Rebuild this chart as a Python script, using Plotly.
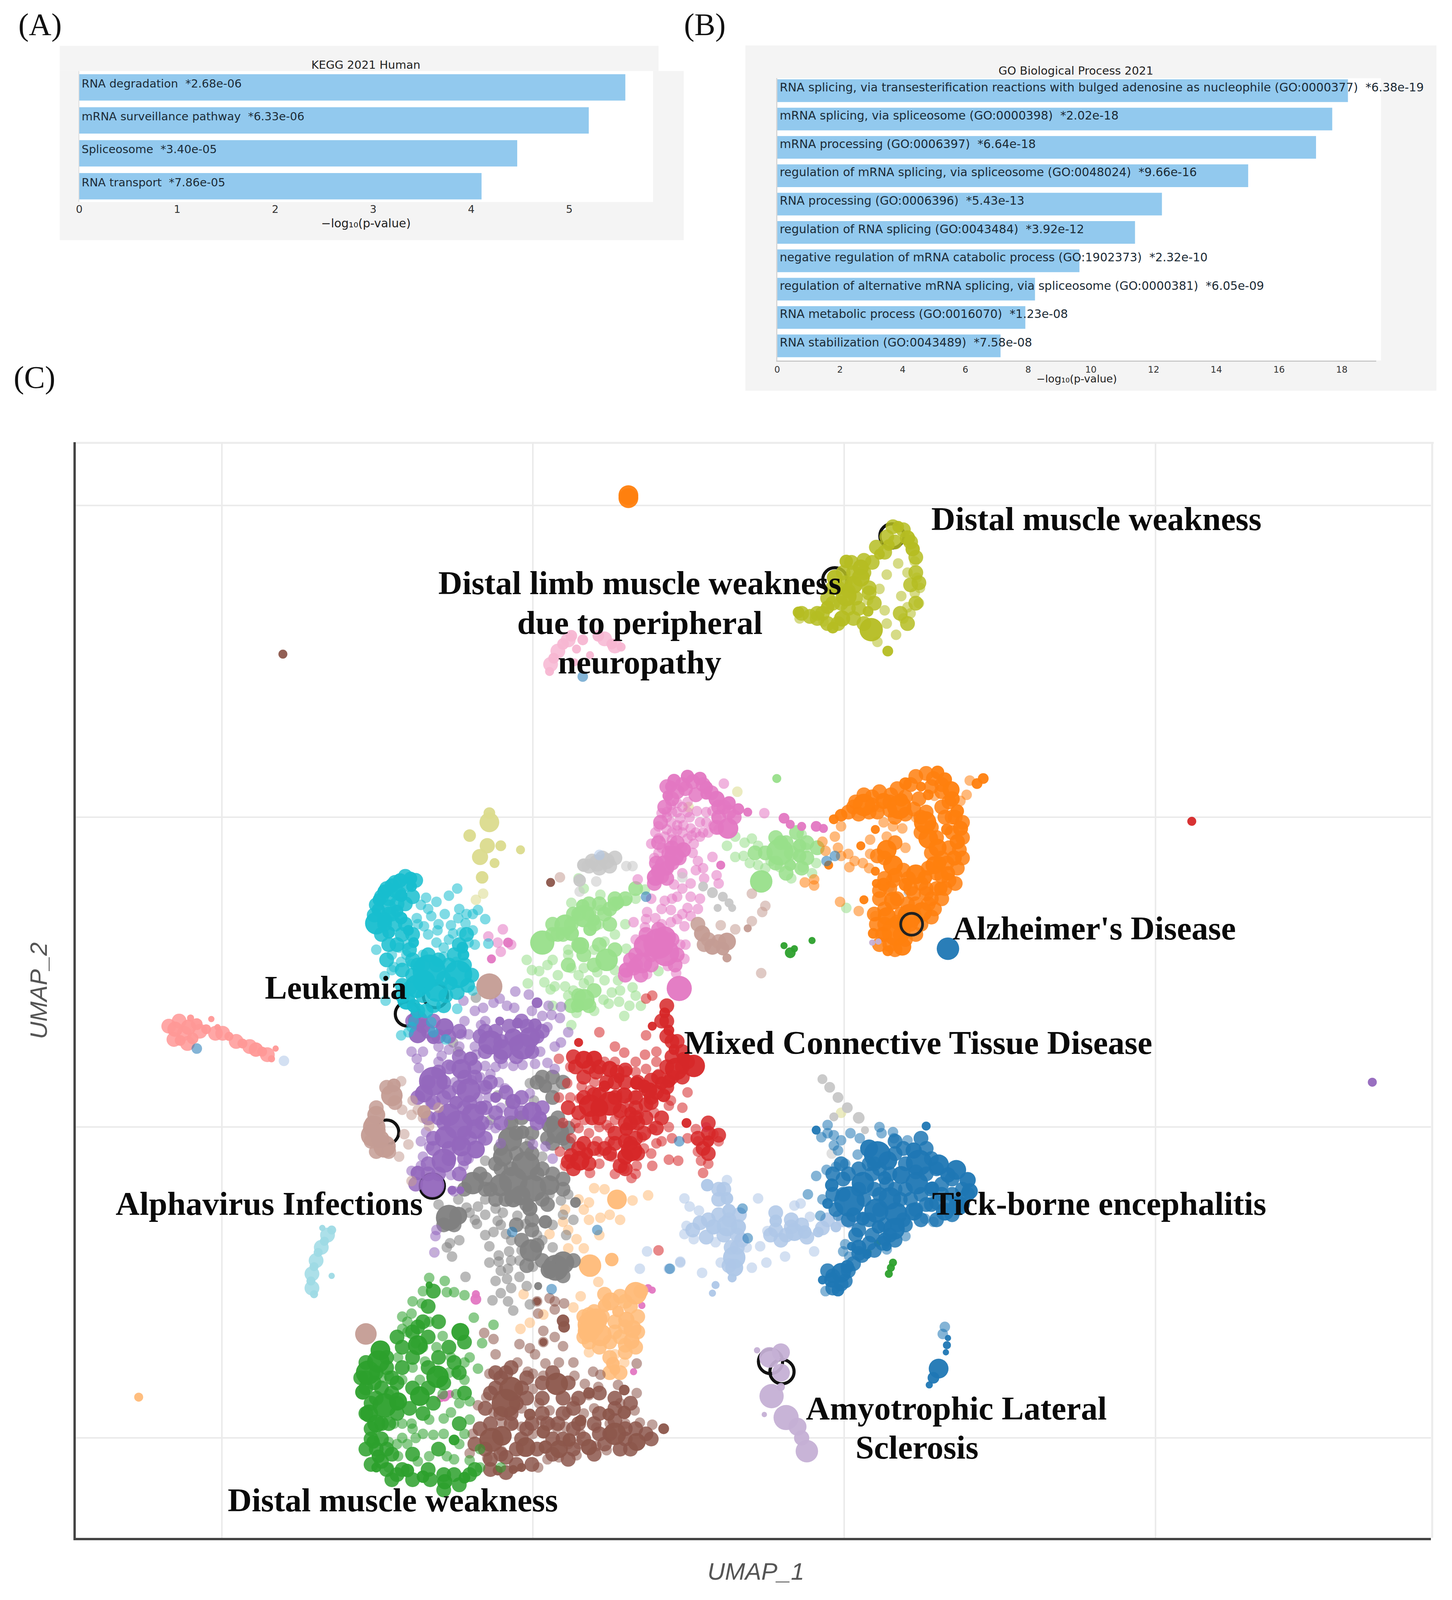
import plotly.graph_objects as go

# reference proportions, the figure itself fills the window
W = 3717
H = 4182

# (A) KEGG
kegg_terms = ['RNA degradation', 'mRNA surveillance pathway', 'Spliceosome', 'RNA transport']
kegg_pvals = ['2.68e-06', '6.33e-06', '3.40e-05', '7.86e-05']
kegg_scores = [5.572, 5.199, 4.469, 4.105]
kegg_ticks = [0, 1, 2, 3, 4, 5]

# (B) GO
go_terms = ['RNA splicing, via transesterification reactions with bulged adenosine as nucleophile (GO:0000377)',
            'mRNA splicing, via spliceosome (GO:0000398)',
            'mRNA processing (GO:0006397)',
            'regulation of mRNA splicing, via spliceosome (GO:0048024)',
            'RNA processing (GO:0006396)',
            'regulation of RNA splicing (GO:0043484)',
            'negative regulation of mRNA catabolic process (GO:1902373)',
            'regulation of alternative mRNA splicing, via spliceosome (GO:0000381)',
            'RNA metabolic process (GO:0016070)',
            'RNA stabilization (GO:0043489)']
go_pvals = ['6.38e-19', '2.02e-18', '6.64e-18', '9.66e-16', '5.43e-13',
            '3.92e-12', '2.32e-10', '6.05e-09', '1.23e-08', '7.58e-08']
go_scores = [18.195, 17.695, 17.178, 15.015, 12.265, 11.407, 9.635, 8.218, 7.91, 7.12]
go_ticks = [0, 2, 4, 6, 8, 10, 12, 14, 16, 18]

# (C) UMAP, points
# *_pts: pale scattered cells, *_fill: dense cells, *_blobs: (umap_1, umap_2, weight)
olive_pts = [(881,565),(879,580),(872,594),(868,605),(852,610),(861,621),(843,628),(852,562),(845,576),(866,583),
             (863,551),(850,597),(872,560),(879,549),(834,587),(791,608),(768,605),(884,575),(883,590),(875,600)]
olive_fill = [(830,548),(820,560),(812,570),(835,575),(822,585),(805,575),(800,590),(815,595),(790,600),(825,595),(840,590),(860,530),
              (868,518),(875,530),(850,540),(838,550),(880,545),(830,610),(785,600),(778,603),(795,610),(883,570),(880,590),(872,610),
              (865,600),(880,560),(875,572),(810,560),(818,550),(800,575),(820,605),(808,590),(830,560),(842,535),(852,525),(858,515),
              (835,580),(815,578),(785,605),(770,600),(805,610),(795,585)]
olive_blobs = [(863,515,26),(872,526,34),(877,537,32),(854,533,26),(845,542,24),(827,555,36),(813,549,30),(802,565,36),
               (827,565,40),(813,583,46),(795,594,30),(809,605,36),(834,598,24),(837,616,52),(767,599,26),(800,614,26),
               (853,637,24),(820,572,40)]
light_pink_fill = [(545,626),(535,637),(580,625),(590,632),(528,650)]
light_pink_blobs = [(548,622,26),(540,630,26),(531,644,24),(527,657,20),(559,626,24),(574,622,26),(587,630,24),(596,633,20),
                    (553,635,20),(566,641,18),(551,648,18)]
khaki_blobs = [(469,805,44),(469,796,26),(450,818,28),(467,828,34),(480,828,24),(460,839,36),(462,859,28),(499,832,20),(474,845,22)]
khaki_pts = [(463,875),(456,881),(808,1090),(661,790),(708,775)]
cyan_pts = [(408,879),(418,883),(403,886),(430,877),(438,870),(426,895),(439,899),(446,904),(458,891),(453,895),(465,900),
            (419,911),(434,914),(453,911),(406,907),(413,897),(399,899),(418,923),(425,928),(432,906),(442,913),(449,923),
            (382,928),(375,935),(360,930),(368,956),(384,942),(377,947),(389,935),(394,944),(369,980),(468,924),(437,942),
            (425,937),(453,970),(391,1011),(394,1006),(413,1001),(427,1018),(415,1011),(438,988),(396,1000),(384,1014),
            (400,905),(410,915),(420,905),(440,890),(430,920),(447,895),(410,890),(455,925),(375,950),(390,925),(405,935)]
cyan_fill = [(388,858),(378,864),(370,870),(365,878),(360,886),(358,896),(372,880),(378,872),(390,866),(398,862),(395,878),(388,885),
             (372,895),(378,905),(385,915),(392,930),(372,925),(365,915),(395,940),(420,940),(430,945),(445,945),(448,965),(425,958),
             (410,935),(400,945),(395,955),(385,965),(385,975),(392,968),(405,975),(427,975),(438,972),(382,875),(372,888),(380,885),
             (368,905),(375,895),(388,905),(395,915),(380,925),(370,940),(385,950),(418,945),(435,935),(440,925),(447,915),(405,945),
             (452,955),(415,985),(400,990),(425,985),(408,990)]
cyan_blobs = [(393,860,30),(383,862,32),(375,867,32),(368,873,32),(363,881,30),(362,891,30),(360,904,50),(368,901,34),(372,913,28),
              (380,892,28),(384,899,28),(391,911,24),(396,923,24),(384,877,28),(394,868,24),(411,951,74),(439,954,62),(399,966,52),
              (418,970,50),(389,980,40),(406,961,50),(432,963,30),(396,985,30),(444,935,26),(443,928,26)]
pink_pts = [(635,796),(644,805),(632,809),(653,801),(663,811),(672,805),(650,813),(638,819),(660,821),(672,819),(625,826),(632,821),
            (650,786),(669,794),(684,794),(678,805),(644,788),(688,801),(640,800),(656,808),(666,826),(645,822),(629,815),
            (734,796),(695,767),(684,839),(670,843),(688,857),(655,855),(647,866),(663,878),(672,880),(638,882),(644,891),
            (660,889),(621,893),(629,899),(663,897),(608,903),(644,903),(657,907),(619,908),(612,861),(653,925),(657,939),
            (641,946),(621,954),(649,953),(482,910),(468,917),(477,923),(480,932),(490,925),(668,852),(676,860),(650,878),(655,895),
            (640,795),(650,795),(660,795),(645,815),(655,830),(665,835),(668,815),(635,830),(680,815),(690,812),(645,795),(655,790),
            (662,800),(640,812),(650,808),(664,818),(655,815),(642,828),(632,835),(678,795),(685,808),(660,785),(675,815),(628,840),
            (690,865),(675,850),(663,865),(655,870),(670,890),(650,900),(635,890),(625,880),(645,880),(620,900),(635,905),(658,925),(610,920)]
pink_fill = [(655,768),(665,765),(675,768),(683,776),(690,790),(700,795),(645,782),(638,790),(634,805),(632,825),(642,835),(650,825),
             (645,845),(635,858),(628,865),(640,860),(625,935),(610,945),(645,920),(650,935),(608,948),(600,955),(650,775),(658,772),
             (668,778),(640,770),(695,790),(705,800),(690,800),(688,810),(645,830),(652,840),(640,850),(630,845),(625,945),(615,955),
             (605,940),(620,915),(632,910),(648,945),(610,935)]
pink_blobs = [(647,764,30),(660,760,30),(672,762,30),(678,771,30),(644,770,26),(641,779,24),(688,782,36),(700,786,30),(709,792,26),
              (718,795,20),(678,777,26),(699,811,46),(647,838,44),(638,847,44),(629,859,38),(656,832,34),(632,853,34),
              (632,924,68),(639,933,60),(619,926,50),(638,918,50),(616,943,46),(601,950,34),(652,968,56),(692,847,20),(753,801,24),
              (759,807,20),(770,809,20),(784,809,24),(791,811,20),(487,923,22),(471,939,20),(426,1368,24),(422,1370,18),(431,1366,18),
              (456,1273,24),(456,1268,18),(622,1262,18),(626,1264,16),(616,1279,16),(608,1344,16),(678,1104,22)]
lgreen_pts = [(706,819),(722,821),(698,828),(714,838),(706,839),(728,828),(728,847),(740,843),(749,849),(771,849),(784,845),(774,830),
              (770,817),(813,889),(576,876),(548,884),(576,891),(610,880),(619,871),(601,882),(505,940),(525,945),(517,951),(548,948),
              (560,948),(573,952),(601,929),(632,951),(506,963),(522,962),(532,966),(542,966),(560,963),(593,960),(607,967),(587,972),
              (579,979),(594,981),(604,985),(599,995),(584,983),(553,992),(548,1004),(528,969),(570,930),(580,922),(545,930),(550,970),(570,990),
              (545,935),(535,955),(555,955),(565,960),(580,960),(590,950),(545,975),(530,985),(510,950),(595,970),(610,975),(615,985),(530,940),
              (600,905),(590,915),(575,905),(560,870),(555,860),(735,850),(715,825),(720,845),(760,860),(780,855)]
lgreen_fill = [(570,905),(555,895),(548,905),(540,915),(530,915),(565,885),(585,890),(590,880),(555,925),(560,935),(545,945),(785,830),
               (745,820),(755,825),(745,845),(735,835),(760,835),(775,840),(535,915),(550,895),(575,885),(580,895),(565,895),(585,905),
               (530,905),(575,925),(570,945),(590,930),(555,975),(570,970),(565,985),(548,985),(590,885),(600,880),(610,870),(750,825),
               (765,815),(770,850),(755,855),(725,835),(775,825)]
lgreen_blobs = [(749,834,60),(731,863,50),(768,828,30),(759,847,26),(768,838,30),(746,762,20),(520,923,54),(542,906,48),(560,897,50),
                (559,887,30),(570,901,26),(582,940,50),(557,926,38),(560,979,48),(554,985,30),(593,884,28),(566,910,30),(548,914,34)]
silver_pts = [(556,873),(601,848),(607,848),(572,863),(799,1130),(655,859)]
silver_fill = [(565,848),(575,850),(585,848),(578,840),(568,843),(590,840)]
silver_blobs = [(573,845,38),(582,843,36),(560,847,30),(556,862,28),(675,868,22),(684,874,24),(694,878,22),(700,884,20),(689,889,18),
                (703,889,18),(790,1057,22),(797,1065,24),(805,1075,24),(814,1085,24),(825,1095,26),(801,1094,20),(831,1107,18),
                (855,869,22),(872,874,18)]
rosy_pts = [(692,906),(706,910),(722,902),(732,893),(735,887),(722,875),(385,1087),(395,1078),(387,1111),(391,1121),(382,1133),
            (400,1087),(411,1103),(394,1092),(384,1059),(394,1157),(537,859),(731,953),(405,1095),(420,1085)]
rosy_fill = [(680,920),(690,922),(670,905),(676,925),(370,1065),(378,1080),(360,1085),(356,1100),(362,1108),(355,1118),(372,1128),(360,1128)]
rosy_blobs = [(674,914,36),(684,927,36),(698,922,40),(694,929,30),(698,938,20),(469,966,58),(375,1073,48),(377,1063,30),(360,1092,40),
              (358,1104,50),(356,1112,50),(368,1123,50),(364,1116,40),(406,1089,30),(350,1307,48),(718,909,18)]
purple_pts = [(494,971),(507,974),(493,987),(486,985),(473,982),(479,978),(463,987),(444,980),(538,986),(526,985),(529,994),(537,997),
              (525,1006),(538,1021),(532,1025),(545,1011),(518,1030),(525,1041),(532,1047),(513,1042),(501,1043),(492,1044),(482,1042),
              (442,1013),(449,1013),(461,1004),(456,1033),(423,1034),(394,1030),(399,1037),(401,1046),(430,1028),(465,1044),(470,1052),
              (432,1044),(465,1064),(468,1075),(408,1109),(403,1118),(405,1133),(411,1123),(468,1102),(461,1116),(444,1142),(432,1151),
              (449,1135),(484,1066),(508,1071),(480,1085),(523,1123),(511,1121),(530,1135),(403,1142),(394,1147),(418,1205),(417,1211),
              (416,1227),(435,1167),(478,1060),(452,1058),(436,1060),(420,1040),(412,1080),(458,1075),(445,1000),(455,1025),(475,1045),
              (510,990),(520,995),(465,1000),(455,990),(440,1025),(420,1025),(405,1030),(460,1055),(475,1105),(480,1120)]
purple_fill = [(405,1005),(415,1000),(430,1015),(440,1010),(475,1010),(488,1005),(505,1005),(515,1015),(510,1030),(495,1035),(480,1035),(465,1030),
               (460,1015),(430,1045),(445,1055),(425,1060),(415,1080),(425,1075),(440,1065),(455,1055),(465,1065),(450,1080),(425,1100),(410,1095),
               (445,1110),(462,1100),(415,1125),(430,1125),(445,1135),(410,1140),(420,1150),(398,1160),(475,1090),(490,1090),(500,1075),(520,1085),(470,1060),
               (395,1000),(410,1010),(420,1015),(465,1010),(500,1000),(520,1010),(480,1020),(495,1022),(440,1035),(455,1045),(420,1050),(410,1060),(400,1075),
               (430,1070),(445,1085),(420,1095),(440,1120),(430,1135),(415,1115),(410,1150),(450,1115),(465,1085),(465,1115),(440,1150),(485,1070),(500,1090),
               (515,1100),(480,1100)]
purple_blobs = [(400,999,44),(400,1013,40),(426,1006,40),(415,1016,30),(470,1021,54),(482,1028,46),(501,1025,58),(508,1016,46),(492,1016,40),
                (513,1004,30),(515,982,24),(479,1000,20),(496,1002,24),(415,1059,64),(406,1071,40),(449,1068,54),(442,1047,44),(451,1037,32),
                (430,1092,50),(439,1102,64),(453,1092,50),(427,1114,50),(456,1106,44),(442,1123,44),(425,1137,54),(456,1126,40),(414,1161,54),
                (400,1149,32),(437,1080,30),(461,1085,30),(492,1079,34),(510,1089,44),(518,1095,30),(475,1075,24),(433,1166,20),(441,1166,18),
                (1320,1060,20)]
gray_pts = [(420,1180),(439,1175),(447,1183),(450,1188),(465,1175),(458,1182),(475,1184),(482,1188),(477,1196),(457,1199),(473,1207),(485,1209),
            (496,1191),(504,1199),(515,1210),(543,1210),(431,1218),(428,1222),(433,1231),(469,1221),(478,1230),(488,1226),(469,1237),(478,1236),
            (498,1235),(487,1243),(486,1253),(498,1251),(511,1241),(480,1267),(472,1274),(487,1275),(492,1284),(508,1278),(530,1222),(446,1251),
            (490,1262),(527,1170),(538,1176),(477,1073),(489,1080),(470,1097),(508,1118),(520,1133),(465,1137),(518,1059),(532,1066),(508,1061),
            (434,1021),(439,1030),(456,977),(490,1100),(512,1078),(455,1195),(465,1190),(480,1200),(490,1215),(500,1225),(465,1210),(480,1245),
            (490,1235),(505,1260),(475,1255),(520,1215),(530,1200),(540,1190),(545,1170),(550,1195),(440,1215)]
gray_fill = [(505,1125),(495,1130),(515,1150),(530,1150),(540,1155),(470,1165),(465,1155),(485,1175),(505,1180),(520,1175),(510,1195),(495,1200),
             (480,1145),(535,1095),(545,1105),(530,1075),(520,1055),(540,1060),(510,1110),(490,1100),(500,1095),(530,1100),(540,1115),(525,1115),
             (545,1120),(530,1120),(515,1060),(530,1055),(495,1110),(480,1125),(475,1140),(490,1145),(510,1130),(520,1145),(540,1165),(475,1175),
             (465,1165),(445,1165),(460,1150),(525,1180),(510,1205),(500,1215),(515,1220),(425,1200),(435,1200),(520,1235),(540,1250),(550,1235),(505,1240)]
gray_blobs = [(523,1064,30),(535,1109,50),(527,1102,36),(489,1116,54),(482,1133,44),(501,1109,30),(504,1142,64),(492,1157,64),(511,1164,60),
              (480,1161,50),(453,1159,50),(527,1161,44),(499,1171,44),(430,1193,58),(439,1191,40),(509,1225,50),(533,1242,58),(540,1237,50),
              (527,1244,40),(492,1174,40),(508,1184,34),(523,1197,30),(552,1178,24),(516,1260,18)]
red_pts = [(575,1011),(599,1031),(619,1033),(590,1025),(536,1037),(620,1014),(626,975),(620,978),(547,1045),(601,1049),(632,1052),(558,1064),
           (544,1061),(547,1075),(566,1068),(561,1097),(575,1104),(590,1097),(613,1092),(628,1090),(642,1083),(626,1106),(642,1104),(635,1118),
           (616,1114),(585,1118),(573,1118),(587,1133),(575,1140),(599,1145),(611,1142),(626,1142),(642,1136),(651,1137),(606,1154),(566,1149),
           (542,1142),(537,1128),(673,1137),(675,1149),(670,1118),(685,1111),(668,1106),(690,1118),(670,1128),(644,1078),(611,1073),(620,1047),
           (592,1071),(604,1080),(594,1092),(609,1104),(556,1076),(582,1102),(632,1225),(580,1040),(610,1040),(630,1040),(552,1100),(600,1115),(618,1125),
           (590,1040),(610,1050),(630,1030),(570,1060),(600,1085),(585,1105),(630,1120),(625,1130),(610,1150),(590,1150),(575,1128),(555,1105),(565,1110),
           (548,1115),(540,1100),(536,1075),(655,1085),(660,1070),(660,1115),(680,1140),(645,1115)]
red_fill = [(550,1035),(565,1045),(575,1045),(590,1060),(600,1060),(610,1075),(625,1080),(640,1065),(655,1055),(640,1045),(645,1035),(650,1020),
            (640,1015),(635,1000),(560,1075),(570,1072),(595,1088),(610,1085),(625,1075),(575,1095),(600,1118),(610,1115),(590,1120),(595,1142),
            (612,1130),(555,1125),(548,1132),(570,1125),(585,1130),(620,1095),(635,1095),(605,1100),(680,1110),(675,1125),(680,1130),(552,1045),
            (560,1055),(572,1050),(582,1060),(592,1050),(600,1048),(612,1060),(625,1058),(632,1055),(645,1055),(655,1045),(660,1040),(655,1030),
            (645,1020),(640,1000),(640,985),(630,1070),(620,1082),(610,1095),(600,1100),(590,1075),(575,1072),(555,1090),(568,1095),(545,1085),
            (618,1110),(605,1120),(612,1100),(600,1145),(590,1110),(580,1125),(560,1120),(565,1140),(550,1145),(545,1138),(670,1115),(680,1100),
            (690,1112),(630,1105)]
red_blobs = [(560,1038,40),(570,1037,36),(585,1047,36),(566,1083,50),(585,1081,54),(575,1085,40),(599,1073,36),(623,1068,36),(637,1073,30),
             (649,1047,50),(666,1044,50),(656,1037,30),(647,1028,24),(642,1009,24),(638,992,24),(618,1064,30),(642,1059,30),(606,1127,48),
             (600,1133,36),(556,1137,44),(563,1130,28),(601,1106,30),(594,1056,24),(611,1061,30),(580,1064,26),(680,1118,26),(659,1100,22),
             (626,1005,20),(635,1061,30),(555,1021,20),(605,1090,28),(1146,804,20)]
orange_pts = [(808,809),(858,809),(849,805),(867,811),(852,819),(836,822),(815,836),(821,843),(808,838),(829,845),(816,849),(836,836),(802,819),
              (790,824),(793,833),(805,830),(782,861),(773,864),(782,867),(807,883),(825,892),(841,897),(898,779),(932,764),(929,778),(923,784),
              (880,800),(870,830),(835,850),(845,790)]
orange_fill = [(815,795),(822,785),(838,780),(845,775),(856,778),(862,772),(875,768),(880,760),(890,757),(897,762),(835,795),(825,797),(843,795),
               (855,793),(870,797),(878,792),(860,800),(905,775),(912,785),(905,790),(918,800),(908,800),(915,815),(925,820),(912,830),(922,832),
               (910,845),(920,850),(905,858),(912,862),(900,870),(895,880),(905,880),(898,890),(885,800),(895,810),(885,815),(895,835),
               (868,852),(850,840),(843,838),(860,857),(873,860),(885,865),(892,850),(845,880),(850,890),(842,905),(848,915),
               (855,925),(860,930),(870,920),(880,915),(885,905),(892,885),(872,885),(862,880),(878,875),(866,895),(855,870),(840,895),(870,905),
               (895,898),(850,905),(860,825),(858,862),(875,870),(890,870),(900,855),(905,840),(900,820),(890,795),(883,782),(870,780),
               (855,785),(838,788),(830,778),(820,790),(905,768),(895,770),(915,800),(925,805),(925,840),(918,865),(908,870),(850,860),(845,872),
               (850,915),(865,915),(875,905),(862,903),(845,925),(880,885),(890,875)]
orange_blobs = [(830,788,50),(849,784,36),(864,790,54),(870,767,28),(901,756,30),(908,763,32),(914,773,38),(915,782,34),(920,794,30),(923,811,34),
                (920,824,34),(917,840,34),(911,855,32),(904,870,30),(889,805,50),(892,821,44),(901,830,40),(880,856,44),(858,847,44),(852,832,44),
                (898,847,40),(889,859,32),(808,798,28),(801,802,22),(866,783,30),(861,912,64),(874,897,54),(886,893,44),(852,897,40),(867,927,40),
                (858,882,40),(849,866,30),(870,866,30),(839,914,24),(853,931,24),(841,812,20),(827,828,20),(796,847,20),(841,853,20),(842,865,20),
                (830,881,20),(945,762,24),(939,767,24),(603,484,44),(603,487,44),(885,770,22),(892,778,24),(903,845,30),(910,812,26)]
peach_pts = [(576,1193),(595,1195),(622,1171),(607,1176),(565,1178),(570,1164),(560,1223),(553,1214),(545,1223),(574,1256),(557,1270),(542,1185),
             (540,1197),(527,1209),(502,1268),(499,1302),(508,1296),(565,1325),(590,1327),(550,1281),(599,1335),(521,1288),(555,1175),(580,1165),
             (575,1210),(585,1190),(565,1195),(545,1205),(560,1185)]
peach_fill = [(565,1288),(578,1290),(590,1295),(595,1310),(612,1290),(600,1275),(560,1310),(585,1315),(600,1325),(585,1330),(612,1305),(570,1285),
              (560,1290),(565,1315),(575,1320),(590,1305),(600,1300),(605,1280),(615,1265),(595,1270),(580,1268),(610,1320),(595,1345),(585,1345),(600,1318)]
peach_blobs = [(592,1175,44),(566,1240,50),(587,1234,30),(610,1267,50),(567,1298,60),(572,1293,50),(576,1308,50),(565,1304,50),(586,1275,40),
               (601,1293,36),(607,1302,40),(606,1314,36),(580,1279,30),(593,1285,26),(588,1336,30),(590,1342,24),(131,1369,20)]
brown_pts = [(464,1306),(473,1312),(475,1327),(498,1317),(521,1315),(515,1275),(527,1272),(532,1275),(541,1277),(516,1287),(532,1283),(521,1304),
             (532,1310),(540,1319),(508,1321),(513,1327),(496,1335),(523,1336),(536,1335),(511,1346),(521,1348),(506,1344),(550,1335),(551,1348),
             (569,1344),(576,1347),(561,1356),(574,1359),(565,1367),(611,1365),(593,1357),(611,1336),(595,1375),(570,1380),(551,1373),(544,1384),
             (527,1382),(517,1375),(511,1361),(469,1346),(466,1369),(458,1377),(473,1384),(481,1394),(492,1396),(500,1398),(511,1405),(614,1394),
             (626,1396),(609,1382),(582,1421),(572,1417),(450,1424),(453,1405),(467,1429),(481,1422),(525,1430),(536,1428),(553,1426),(516,1438),
             (519,1392),(534,1399),(572,1399),(557,1405),(542,1398),(500,1380),(528,1395),(560,1385),(585,1395),(600,1395),(545,1415),(555,1415)]
brown_fill = [(470,1395),(480,1385),(495,1375),(500,1360),(475,1360),(465,1380),(460,1400),(465,1420),(490,1395),(505,1400),(520,1385),(530,1410),
              (515,1420),(535,1395),(550,1400),(560,1410),(575,1405),(550,1420),(580,1415),(600,1400),(605,1420),(620,1405),(575,1385),(590,1380),
              (540,1370),(520,1370),(545,1355),(505,1350),(485,1345),(495,1420),(485,1428),(475,1345),(470,1365),(480,1350),(490,1385),(505,1370),
              (510,1395),(525,1395),(540,1410),(555,1395),(570,1395),(585,1405),(600,1410),(610,1400),(625,1410),(595,1420),(590,1392),(570,1425),
              (545,1430),(530,1425),(500,1410),(480,1425),(470,1430),(455,1415),(490,1340),(530,1345),(555,1370),(575,1365),(590,1370),(605,1375),
              (520,1355),(540,1385),(550,1380),(470,1440),(485,1443),(495,1435),(510,1435)]
brown_blobs = [(490,1361,54),(485,1375,64),(534,1356,50),(590,1405,50),(611,1413,40),(471,1411,54),(481,1407,44),(504,1418,44),(540,1294,28),(541,1300,26),
               (565,1418,36),(536,1420,40),(521,1403,30),(546,1411,30),(523,1418,30),(637,1400,24),(599,1362,24),(565,1365,26),(500,1438,20),(492,1440,20),
               (477,1441,22),(599,1384,30),(584,1386,28),(508,1386,26),(557,1392,26),(528,864,20),(270,640,20),(515,1275,18),(521,1315,18)]
green_pts = [(411,1252),(426,1255),(435,1266),(445,1269),(428,1266),(404,1277),(394,1287),(411,1295),(385,1302),(424,1309),(454,1291),(473,1298),(462,1316),
             (450,1330),(381,1330),(407,1334),(432,1330),(385,1352),(402,1352),(445,1352),(450,1373),(432,1384),(411,1391),(394,1395),(377,1395),(372,1413),
             (398,1409),(415,1406),(450,1391),(381,1427),(411,1427),(428,1427),(450,1431),(460,1438),(480,1438),(372,1438),(458,1341),(424,1366),(437,1366),
             (398,1316),(372,1348),(372,1366),(385,1409),(390,1295),(418,1320),(395,1340),(437,1345),(380,1415),(440,1415),(400,1432),(405,1265),(395,1275),
             (385,1290),(390,1305),(405,1320),(420,1345),(430,1345),(445,1335),(440,1375),(425,1390),(405,1405),(390,1415),(425,1405),(445,1405),(460,1420),
             (435,1430),(395,1400),(385,1395),(365,1350)]
green_fill = [(350,1360),(358,1355),(355,1375),(365,1360),(375,1350),(385,1340),(370,1330),(355,1400),(365,1410),(360,1420),(355,1435),(370,1440),
              (380,1445),(395,1450),(412,1450),(435,1445),(455,1440),(380,1385),(392,1380),(405,1385),(415,1375),(420,1330),(430,1320),(395,1330),
              (410,1310),(385,1320),(400,1300),(420,1295),(410,1280),(440,1345),(445,1365),(360,1370),(375,1365),(440,1395),(420,1420),(395,1425),(375,1425),
              (350,1335),(360,1345),(370,1340),(350,1350),(345,1350),(365,1395),(372,1395),(350,1385),(355,1410),(370,1420),(350,1420),(365,1432),(375,1450),
              (385,1440),(410,1440),(425,1445),(440,1455),(425,1460),(450,1445),(395,1360),(410,1360),(425,1355),(435,1335),(410,1340),(395,1305),(405,1295),
              (380,1310),(415,1265),(445,1315),(380,1355),(380,1375)]
green_blobs = [(352,1345,54),(362,1334,50),(364,1323,44),(400,1318,44),(441,1305,40),(419,1349,50),(402,1368,44),(368,1377,54),(360,1395,40),(381,1373,40),
               (357,1413,30),(362,1427,30),(390,1441,30),(405,1447,28),(426,1452,34),(445,1448,26),(435,1411,24),(360,1438,22),(411,1259,16),(347,1364,34),
               (353,1385,40),(759,933,24),(753,926,16),(763,929,16),(780,921,16),(856,1242,18),(858,1237,18),(854,1248,18),(843,1218,16),(834,1227,16)]
salmon_fill = [(160,1005),(170,1000),(175,1012),(190,1010),(165,1018),(205,1012),(212,1012),(225,1020),(238,1025),(255,1033),(178,1022)]
salmon_blobs = [(179,1006,34),(166,1008,34),(183,1017,26),(171,1019,24),(196,1008,22),(207,1006,14),(218,1015,20),(231,1022,22),(244,1028,32),
                (250,1030,22),(259,1037,16),(263,1027,14),(201,998,14),(181,997,16),(187,1003,26)]
lcyan_fill = [(313,1210),(307,1222),(302,1235),(298,1248),(298,1262)]
lcyan_blobs = [(317,1205,20),(310,1216,20),(304,1227,20),(300,1241,20),(297,1255,20),(300,1268,18),(317,1250,14),(308,1203,14)]
lblue_pts = [(657,1174),(662,1182),(671,1186),(659,1201),(657,1209),(666,1214),(687,1217),(717,1222),(730,1221),(698,1156),(728,1174),(763,1181),(769,1179),
             (778,1192),(737,1206),(754,1231),(782,1226),(736,1237),(722,1242),(674,1247),(653,1237),(642,1243),(692,1237),(621,1226),(614,1243),(653,1236),
             (271,1039),(575,837)]
lblue_fill = [(690,1190),(700,1195),(710,1190),(695,1210),(680,1195),(672,1198),(755,1210),(745,1205),(770,1200),(790,1203),(810,1195),(740,1210),(760,1195),
              (690,1165),(712,1215),(702,1222),(665,1205),(678,1212),(690,1175),(695,1165),(708,1210),(700,1240),(708,1222),(750,1215),(775,1212),(795,1195),
              (820,1192),(745,1188),(760,1202)]
lblue_blobs = [(698,1201,46),(685,1202,34),(709,1202,34),(698,1174,28),(700,1186,30),(679,1161,28),(705,1232,50),(705,1242,40),(703,1252,20),(763,1207,40),
               (773,1207,30),(745,1196,28),(786,1207,24),(803,1202,24),(816,1199,20),(687,1259,18),(684,1267,16)]
blue_pts = [(795,1102),(795,1110),(801,1112),(789,1114),(808,1117),(817,1110),(801,1122),(805,1127),(826,1115),(845,1104),(847,1110),(858,1109),(859,1115),
            (872,1117),(824,1131),(812,1140),(803,1143),(794,1146),(784,1152),(776,1170),(790,1175),(788,1191),(805,1191),(870,1211),(852,1224),(812,1219),
            (810,1226),(816,1231),(793,1265),(897,1197),(889,1194),(829,1192),(713,1184),(718,1213),(652,1118),(491,1207),(529,1263),(573,1205),(643,1243),
            (906,1307),(908,1300),(802,838),(794,843),(559,662),(187,1027),(620,878)]
blue_fill = [(845,1145),(860,1130),(870,1140),(890,1125),(895,1135),(815,1150),(825,1145),(838,1150),(852,1160),(870,1165),(885,1170),(900,1178),(915,1170),
             (925,1165),(905,1160),(890,1150),(875,1175),(860,1165),(845,1170),(830,1175),(820,1190),(810,1170),(803,1185),(800,1150),(808,1140),(835,1195),
             (850,1200),(868,1195),(885,1195),(900,1195),(915,1190),(838,1210),(860,1215),(870,1200),(848,1218),(828,1230),(820,1238),(812,1255),(822,1210),
             (835,1218),(800,1262),(795,1245),(890,1180),(880,1148),(868,1125),(860,1118),(885,1115),(840,1140),(912,1178),(925,1180),(835,1140),(825,1165),
             (840,1165),(855,1150),(865,1175),(880,1185),(895,1180),(905,1170),(920,1180),(900,1145),(915,1155),(930,1170),(810,1155),(800,1170),(815,1195),
             (825,1205),(840,1225),(855,1210),(862,1200),(845,1185),(895,1165),(815,1245),(808,1258),(800,1250),(825,1228)]
blue_blobs = [(843,1131,60),(835,1125,40),(853,1137,42),(883,1139,58),(878,1127,36),(902,1141,46),(919,1146,44),(930,1156,36),(932,1167,36),(921,1181,44),
              (908,1187,40),(866,1151,40),(881,1159,50),(829,1159,50),(816,1177,68),(842,1186,54),(855,1174,50),(861,1189,50),(878,1187,40),(859,1204,48),
              (844,1202,30),(829,1194,30),(799,1161,30),(795,1179,24),(850,1154,30),(896,1164,30),(911,1151,34),(808,1247,44),(799,1254,34),(814,1241,30),
              (805,1264,28),(790,1254,20),(825,1222,34),(833,1229,20),(852,1221,22),(890,1103,20),(784,1107,20),(850,1214,30),(818,1221,20),(911,929,50),
              (902,1341,44),(897,1350,26),(893,1357,16),(910,1318,18),(909,1325,14),(911,1311,14)]
mauve_blobs = [(739,1330,46),(750,1325,40),(750,1345,40),(741,1368,54),(755,1389,56),(766,1398,40),(770,1409,34),(775,1422,50),(727,1323,14),(734,1386,12),
               (750,1359,18),(838,923,14),(844,922,14),(416,1227,12)]

# black rings around the highlighted nodes
rings_under = [(857,524),(802,567),(417,975),(390,993),(414,1162),(370,1109),(740,1334),(751,1344)]
rings_over = [(876,905)]

# clusters are painted in this order: colour, pale cells, dense cells, blobs
clusters = [
    ('#b5bd22', olive_pts, olive_fill, olive_blobs),
    ('#f7b6d2', [], light_pink_fill, light_pink_blobs),
    ('#dbdb8d', khaki_pts, [], khaki_blobs),
    ('#98df8a', lgreen_pts, lgreen_fill, lgreen_blobs),
    ('#e377c2', pink_pts, pink_fill, pink_blobs),
    ('#c7c7c7', silver_pts, silver_fill, silver_blobs),
    ('#ffbb78', peach_pts, peach_fill, peach_blobs),
    ('#8c564b', brown_pts, brown_fill, brown_blobs),
    ('#2ca02c', green_pts, green_fill, green_blobs),
    ('#aec7e8', lblue_pts, lblue_fill, lblue_blobs),
    ('#9edae5', [], lcyan_fill, lcyan_blobs),
    ('#ff9896', [], salmon_fill, salmon_blobs),
    ('#7f7f7f', gray_pts, gray_fill, gray_blobs),
    ('#9467bd', purple_pts, purple_fill, purple_blobs),
    ('#17becf', cyan_pts, cyan_fill, cyan_blobs),
    ('#c49c94', rosy_pts, rosy_fill, rosy_blobs),
    ('#d62728', red_pts, red_fill, red_blobs),
    ('#ff7f0e', orange_pts, orange_fill, orange_blobs),
    ('#1f77b4', blue_pts, blue_fill, blue_blobs),
    ('#c5b0d5', [], [], mauve_blobs),
]

# text on the map: text, umap_1, umap_2, anchor
map_labels = [
    ('Distal muscle weakness', 894, 507, 'left'),
    ('Distal limb muscle weakness', 614, 570, 'center'),
    ('due to peripheral', 614, 609, 'center'),
    ('neuropathy', 614, 648, 'center'),
    ('Leukemia', 252, 967, 'left'),
    ("Alzheimer's Disease", 915, 909, 'left'),
    ('Mixed Connective Tissue Disease', 656, 1021, 'left'),
    ('Tick-borne encephalitis', 895, 1179, 'left'),
    ('Alphavirus Infections', 108, 1179, 'left'),
    ('Amyotrophic Lateral', 919, 1380, 'center'),
    ('Sclerosis', 881, 1418, 'center'),
    ('Distal muscle weakness', 216, 1470, 'left'),
]


def dx(px):
    return (px - 10) / W


def dy(px):
    return 1 - (px - 3) / H


def rect(x0, y0, x1, y1, color):
    return dict(type='rect', xref='paper', yref='paper', x0=dx(x0), x1=dx(x1), y0=dy(y0), y1=dy(y1),
                fillcolor=color, line_width=0, layer='below')


def paper_text(text, x, y, size, color='#222222', family='DejaVu Sans', style='normal', **kw):
    return dict(text=text, xref='paper', yref='paper', x=dx(x), y=dy(y), showarrow=False,
                xanchor='center', yanchor='middle',
                font=dict(family=family, size=size, color=color, style=style), **kw)


fig = go.Figure()
annotations = []

# bar panels
fig.add_trace(go.Bar(x=kegg_scores, y=kegg_terms, orientation='h', marker_color='#92c9ee',
                     marker_line_width=0, xaxis='x', yaxis='y', showlegend=False))
fig.add_trace(go.Bar(x=go_scores, y=go_terms, orientation='h', marker_color='#92c9ee',
                     marker_line_width=0, xaxis='x2', yaxis='y2', showlegend=False))

for term, pval in zip(kegg_terms, kegg_pvals):
    annotations.append(dict(text=f'{term}  *{pval}', xref='x', yref='y', x=0, y=term, xanchor='left',
                            xshift=4, yshift=10, showarrow=False,
                            font=dict(family='DejaVu Sans', size=29, color='#1c2b36')))
for term, pval in zip(go_terms, go_pvals):
    annotations.append(dict(text=f'{term}  *{pval}', xref='x2', yref='y2', x=0, y=term, xanchor='left',
                            xshift=4, yshift=9, showarrow=False,
                            font=dict(family='DejaVu Sans', size=30, color='#1c2b36')))

# rings that sit under the nodes
fig.add_trace(go.Scatter(x=[r[0] for r in rings_under], y=[r[1] for r in rings_under], mode='markers',
                         marker=dict(size=62, color='rgba(0,0,0,0)', line=dict(color='#111111', width=8)),
                         xaxis='x3', yaxis='y3', showlegend=False))

for color, pts, fill, blobs in clusters:
    if pts:
        fig.add_trace(go.Scatter(x=[p[0] for p in pts], y=[p[1] for p in pts], mode='markers',
                                 marker=dict(size=27, color=color, opacity=0.55, line_width=0),
                                 xaxis='x3', yaxis='y3', showlegend=False))
    if fill:
        fig.add_trace(go.Scatter(x=[p[0] for p in fill], y=[p[1] for p in fill], mode='markers',
                                 marker=dict(size=38, color=color, opacity=0.85, line_width=0),
                                 xaxis='x3', yaxis='y3', showlegend=False))
    fig.add_trace(go.Scatter(x=[b[0] for b in blobs], y=[b[1] for b in blobs], mode='markers',
                             marker=dict(size=[b[2] * 1.15 for b in blobs], color=color, opacity=0.95, line_width=0),
                             xaxis='x3', yaxis='y3', showlegend=False))

fig.add_trace(go.Scatter(x=[r[0] for r in rings_over], y=[r[1] for r in rings_over], mode='markers',
                         marker=dict(size=56, color='rgba(0,0,0,0)', line=dict(color='#222222', width=7)),
                         xaxis='x3', yaxis='y3', showlegend=False))

for text, x, y, anchor in map_labels:
    annotations.append(dict(text=text, xref='x3', yref='y3', x=x, y=y, xanchor=anchor, yanchor='middle', showarrow=False,
                            font=dict(family='Liberation Serif', size=85, color='#0a0a0a', weight='bold')))

# titles and axis captions
annotations += [
    paper_text('KEGG 2021 Human', 936, 165, 29),
    paper_text('GO Biological Process 2021', 2766, 180, 29),
    paper_text('−log₁₀(p-value)', 936, 581, 30),
    paper_text('−log₁₀(p-value)', 2768, 989, 27),
    paper_text('(A)', 96, 60, 80, color='#111111', family='Liberation Serif'),
    paper_text('(B)', 1810, 60, 80, color='#111111', family='Liberation Serif'),
    paper_text('(C)', 82, 985, 80, color='#111111', family='Liberation Serif'),
    paper_text('UMAP_1', 1941, 4118, 62, color='#555555', family='Liberation Sans', style='italic'),
    paper_text('UMAP_2', 92, 2594, 62, color='#555555', family='Liberation Sans', style='italic', textangle=-90),
]

shapes = [
    # grey card of panel A is stepped on its right side
    rect(147, 115, 1690, 181, '#f4f4f4'),
    rect(147, 181, 1755, 625, '#f4f4f4'),
    rect(197, 181, 1676, 525, '#ffffff'),
    rect(1914, 114, 3695, 1020, '#f4f4f4'),
    rect(1996, 200, 3552, 941, '#ffffff'),
    rect(188, 1155, 3681, 4030, '#ffffff'),
    # faint frame of the map
    dict(type='line', xref='paper', yref='paper', x0=dx(188), x1=dx(3688), y0=dy(1157), y1=dy(1157),
         line=dict(color='#ececec', width=5), layer='below'),
    dict(type='line', xref='paper', yref='paper', x0=dx(3684), x1=dx(3684), y0=dy(1157), y1=dy(4030),
         line=dict(color='#ececec', width=5), layer='below'),
]

fig.update_layout(
    margin=dict(l=0, r=0, t=0, b=0),
    paper_bgcolor='white', plot_bgcolor='rgba(0,0,0,0)',
    bargap=0.2, shapes=shapes, annotations=annotations,
    xaxis=dict(domain=[dx(197), dx(1676)], anchor='y', range=[0, 5.855], tickvals=kegg_ticks,
               showgrid=False, zeroline=False, showline=False, ticks='', ticklen=0,
               tickfont=dict(family='DejaVu Sans', size=27, color='#333333')),
    yaxis=dict(domain=[dy(525), dy(181)], anchor='x', type='category', range=[3.48, -0.5],
               showticklabels=False, showgrid=False, zeroline=False, showline=True,
               linecolor='#dddddd', linewidth=2, ticks=''),
    xaxis2=dict(domain=[dx(1996), dx(3540)], anchor='y2', range=[0, 19.1], tickvals=go_ticks,
                showgrid=False, zeroline=False, showline=True, linecolor='#c8c8c8', linewidth=3, ticks='',
                tickfont=dict(family='DejaVu Sans', size=23, color='#333333')),
    yaxis2=dict(domain=[dy(941), dy(200)], anchor='x2', type='category', range=[9.52, -0.44],
                showticklabels=False, showgrid=False, zeroline=False, showline=True,
                linecolor='#d5d5d5', linewidth=3, ticks=''),
    xaxis3=dict(domain=[dx(188), dx(3681)], anchor='y3', range=[70.3, 1376.6], tickvals=[211, 511, 811, 1111],
                showticklabels=False, ticks='', gridcolor='#ebebeb', gridwidth=4, zeroline=False,
                showline=True, linecolor='#444444', linewidth=6),
    yaxis3=dict(domain=[dy(4030), dy(1155)], anchor='x3', range=[1507, 432], tickvals=[494, 800, 1104, 1409],
                showticklabels=False, ticks='', gridcolor='#ebebeb', gridwidth=4, zeroline=False,
                showline=True, linecolor='#444444', linewidth=6),
)

fig.write_html("out.html")
